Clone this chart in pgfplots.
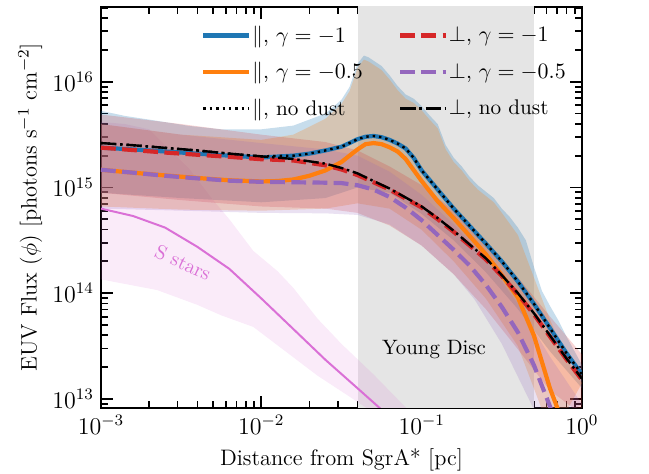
\documentclass[border=0pt]{standalone}
\usepackage{pgfplots}
\pgfplotsset{compat=1.18}
\definecolor{cC0}{HTML}{1F77B4}
\definecolor{cC1}{HTML}{FF7F0E}
\definecolor{cC3}{HTML}{D62728}
\definecolor{cC4}{HTML}{9467BD}
\definecolor{corchid}{HTML}{DA70D6}
\definecolor{cgray}{HTML}{E5E5E5}
\begin{document}
\begin{tikzpicture}
\begin{axis}[
  scale only axis, width=240.5pt, height=200.5pt,
  xmode=log, ymode=log,
  xmin=1e-3, xmax=1, ymin=8.2e12, ymax=5.1e16,
  axis line style={line width=1.2pt},
  every tick/.style={black, line width=0.9pt},
  major tick length=6pt, minor tick length=3.5pt,
  tick align=inside,
  tick label style={font=\fontsize{11.5}{13}\selectfont},
  xlabel={Distance from SgrA* [pc]},
  ylabel={EUV Flux ($\phi$) [photons s$^{-1}$ cm$^{-2}$]},
  every axis x label/.style={at={(axis description cs:0.5,-0.1439)}, anchor=base, font=\fontsize{11.2}{13}\selectfont},
  every axis y label/.style={at={(axis description cs:-0.1339,0.5)}, anchor=base, rotate=90, font=\fontsize{11.2}{13}\selectfont},
  legend columns=2,
  legend cell align=left,
  legend style={draw=none, fill=none, at={(0.982,0.967)}, anchor=north east,
    font=\fontsize{10.6}{12.5}\selectfont, row sep=7.3pt,
    nodes={inner sep=0.6pt, text depth=0.15em},
    /tikz/every even column/.append style={column sep=17pt}},
  legend image code/.code={\draw[#1] (0cm,0cm) -- (0.8cm,0cm);},
]
% Young disc region
\addplot[draw=none, fill=cgray, forget plot] coordinates {(0.04,1e12) (0.5,1e12) (0.5,1e17) (0.04,1e17)} -- cycle;

% S stars band
\addplot[draw=none, fill=corchid, fill opacity=0.14, forget plot] coordinates {
(1e-3,4.17e15) (1.413e-3,3.98e15) (1.995e-3,3.55e15) (2.512e-3,2.51e15) (3.548e-3,1.51e15) (5.012e-3,7.59e14) (6.31e-3,5.01e14) (8.913e-3,2.51e14) (1.259e-2,1.62e14) (1.585e-2,1.12e14) (2.239e-2,5.75e13) (3.162e-2,3.31e13) (5.012e-2,1.70e13) (7.943e-2,8.32e12) (0.1,5.62e12)
(5.623e-2,6.31e12) (4.467e-2,8.32e12) (3.548e-2,1.05e13) (2.239e-2,1.66e13) (1.413e-2,2.82e13) (8.913e-3,4.79e13) (5.623e-3,6.17e13) (3.981e-3,7.76e13) (2.239e-3,1.07e14) (1e-3,1.35e14)} -- cycle;

% blue band
\addplot[draw=none, fill=cC0, fill opacity=0.25, forget plot] coordinates {
(1e-3,5.31e15) (1.413e-3,4.75e15) (2.239e-3,4.27e15) (3.548e-3,3.82e15) (5.623e-3,3.55e15) (1e-2,3.55e15) (1.585e-2,3.85e15) (2.512e-2,5.01e15) (3.162e-2,6.76e15) (3.548e-2,8.91e15) (3.981e-2,1.48e16) (4.365e-2,1.77e16) (4.677e-2,1.70e16) (5.623e-2,1.41e16) (6.31e-2,1.15e16) (7.079e-2,9.12e15) (7.943e-2,7.59e15) (8.913e-2,6.92e15) (0.1,5.89e15) (0.1122,4.79e15) (0.1259,3.98e15) (0.1413,2.51e15) (0.1585,1.91e15) (0.1778,1.58e15) (0.1995,1.26e15) (0.2239,1.05e15) (0.2512,9.12e14) (0.2818,7.94e14) (0.3162,6.31e14) (0.3548,5.25e14) (0.3981,4.17e14) (0.4467,3.16e14) (0.5012,1.78e14) (0.5623,1.05e14) (0.631,7.59e13) (0.7079,5.62e13) (0.7943,3.98e13) (1,2.09e13)
(1,1.26e13) (0.631,2.82e13) (0.3981,7.08e13) (0.2512,1.58e14) (0.1585,3.16e14) (0.1,5.62e14) (6.31e-2,8.91e14) (3.981e-2,1.0e15) (2.512e-2,7.94e14) (1e-2,7.24e14) (3.162e-3,7.94e14) (1e-3,8.91e14)} -- cycle;

% orange band
\addplot[draw=none, fill=cC1, fill opacity=0.25, forget plot] coordinates {
(1e-3,3.98e15) (3.162e-3,3.16e15) (1e-2,2.82e15) (1.585e-2,3.16e15) (2.512e-2,4.47e15) (3.162e-2,6.17e15) (3.548e-2,8.13e15) (3.981e-2,1.35e16) (4.365e-2,1.62e16) (4.677e-2,1.55e16) (5.623e-2,1.29e16) (6.31e-2,1.05e16) (7.079e-2,8.32e15) (7.943e-2,6.92e15) (8.913e-2,6.31e15) (0.1,5.37e15) (0.1122,4.37e15) (0.1259,3.63e15) (0.1413,2.29e15) (0.1585,1.74e15) (0.1778,1.45e15) (0.1995,1.15e15) (0.2239,9.55e14) (0.2512,8.32e14) (0.2818,7.24e14) (0.3162,5.75e14) (0.3981,3.55e14) (0.5012,1.41e14) (0.631,5.62e13) (0.7943,2.51e13) (1,1.41e13)
(0.631,3.98e12) (0.5623,7.94e12) (0.3981,3.16e13) (0.2512,8.91e13) (0.1585,2.0e14) (0.1,3.98e14) (6.31e-2,6.31e14) (3.981e-2,7.08e14) (2.512e-2,6.31e14) (1e-2,6.03e14) (3.162e-3,6.17e14) (1e-3,6.61e14)} -- cycle;

% red band
\addplot[draw=none, fill=cC3, fill opacity=0.2, forget plot] coordinates {
(1e-3,4.90e15) (3.162e-3,3.98e15) (1e-2,3.16e15) (2.512e-2,2.69e15) (3.981e-2,2.24e15) (6.31e-2,1.58e15) (0.1,1.05e15) (0.1585,6.03e14) (0.2512,3.16e14) (0.3981,1.41e14) (0.631,6.03e13) (1,2.63e13)
(1,7.08e12) (0.631,1.20e13) (0.3981,2.95e13) (0.2512,7.08e13) (0.1585,1.51e14) (0.1,2.82e14) (6.31e-2,4.37e14) (3.981e-2,5.75e14) (2.512e-2,6.31e14) (1e-2,6.61e14) (3.162e-3,7.59e14) (1e-3,8.91e14)} -- cycle;

% purple band
\addplot[draw=none, fill=cC4, fill opacity=0.2, forget plot] coordinates {
(1e-3,3.98e15) (3.162e-3,3.16e15) (1e-2,2.63e15) (2.512e-2,2.29e15) (3.981e-2,2.0e15) (6.31e-2,1.41e15) (0.1,8.51e14) (0.1585,4.47e14) (0.2512,2.09e14) (0.3981,7.94e13) (0.631,2.51e13) (1,8.91e12)
(0.5623,5.01e12) (0.5012,7.94e12) (0.3162,3.31e13) (0.2138,8.71e13) (0.1585,1.51e14) (0.1,2.82e14) (6.31e-2,4.47e14) (3.981e-2,5.50e14) (2.512e-2,5.69e14) (1e-2,5.75e14) (3.162e-3,6.03e14) (1e-3,6.31e14)} -- cycle;

% S stars line
\addplot[corchid, line width=1pt, forget plot] coordinates {
(1e-3,6.31e14) (1.585e-3,5.37e14) (2.512e-3,4.17e14) (3.981e-3,2.75e14) (6.31e-3,1.70e14) (1e-2,8.91e13) (1.585e-2,4.57e13) (2.512e-2,2.34e13) (3.981e-2,1.26e13) (6.31e-2,6.76e12)};

% blue: parallel, gamma=-1
\addplot[cC0, line width=2.1pt, forget plot] coordinates {
(1e-3,2.38e15) (1.585e-3,2.29e15) (2.512e-3,2.19e15) (3.981e-3,2.09e15) (6.31e-3,2.00e15) (1e-2,1.92e15) (1.585e-2,2.00e15) (1.995e-2,2.09e15) (2.512e-2,2.24e15) (3.162e-2,2.43e15) (3.548e-2,2.63e15) (3.981e-2,2.86e15) (4.467e-2,3.02e15) (5.012e-2,3.07e15) (5.623e-2,2.99e15) (6.31e-2,2.82e15) (7.079e-2,2.60e15) (7.943e-2,2.34e15) (8.913e-2,1.91e15) (0.1,1.45e15) (0.1259,9.55e14) (0.1585,6.31e14) (0.1995,4.32e14) (0.2512,2.95e14) (0.3162,2.00e14) (0.3981,1.29e14) (0.5012,7.94e13) (0.631,4.68e13) (0.7943,2.75e13) (1,1.70e13)};

% orange: parallel, gamma=-0.5
\addplot[cC1, line width=2.1pt, forget plot] coordinates {
(1e-3,1.47e15) (1.585e-3,1.38e15) (2.512e-3,1.30e15) (3.981e-3,1.23e15) (6.31e-3,1.17e15) (1e-2,1.14e15) (1.259e-2,1.15e15) (1.585e-2,1.19e15) (1.995e-2,1.29e15) (2.512e-2,1.45e15) (3.162e-2,1.74e15) (3.548e-2,2.00e15) (3.981e-2,2.29e15) (4.467e-2,2.57e15) (5.012e-2,2.63e15) (5.623e-2,2.57e15) (6.31e-2,2.40e15) (7.079e-2,2.19e15) (7.943e-2,1.86e15) (0.1,1.15e15) (0.1259,7.41e14) (0.1585,5.13e14) (0.1995,3.47e14) (0.2512,2.34e14) (0.3162,1.48e14) (0.3981,9.12e13) (0.5012,3.98e13) (0.631,1.26e13) (0.7079,7.94e12) (0.7943,4.47e12)};

% red: perp, gamma=-1
\addplot[cC3, line width=2.1pt, dash pattern=on 7.4pt off 3.2pt, forget plot] coordinates {
(1e-3,2.38e15) (1.585e-3,2.26e15) (2.512e-3,2.14e15) (3.981e-3,2.04e15) (6.31e-3,1.95e15) (1e-2,1.85e15) (1.585e-2,1.80e15) (2.512e-2,1.62e15) (3.162e-2,1.48e15) (3.981e-2,1.31e15) (5.012e-2,1.12e15) (6.31e-2,9.55e14) (7.943e-2,7.85e14) (0.1,6.46e14) (0.1259,5.01e14) (0.1585,3.80e14) (0.1995,2.82e14) (0.2512,2.09e14) (0.3162,1.45e14) (0.3981,9.77e13) (0.5012,6.31e13) (0.631,3.89e13) (0.7943,2.40e13) (1,1.51e13)};

% purple: perp, gamma=-0.5
\addplot[cC4, line width=2.1pt, dash pattern=on 7.4pt off 3.2pt, forget plot] coordinates {
(1e-3,1.47e15) (1.585e-3,1.38e15) (2.512e-3,1.29e15) (3.981e-3,1.22e15) (6.31e-3,1.16e15) (1e-2,1.13e15) (1.585e-2,1.12e15) (2.512e-2,1.11e15) (3.162e-2,1.10e15) (3.981e-2,1.05e15) (5.012e-2,9.55e14) (6.31e-2,8.13e14) (7.943e-2,6.46e14) (0.1,4.90e14) (0.1259,3.55e14) (0.1585,2.57e14) (0.1995,1.82e14) (0.2512,1.20e14) (0.3162,7.41e13) (0.3981,4.27e13) (0.5012,2.09e13) (0.631,8.51e12) (0.7079,5.01e12)};

% black dotted: parallel, no dust
\addplot[black, line width=1.2pt, dash pattern=on 1.2pt off 2pt, forget plot] coordinates {
(1e-3,2.63e15) (1.585e-3,2.51e15) (2.512e-3,2.37e15) (3.981e-3,2.24e15) (6.31e-3,2.09e15) (1e-2,1.97e15) (1.585e-2,2.00e15) (1.995e-2,2.09e15) (2.512e-2,2.24e15) (3.162e-2,2.43e15) (3.548e-2,2.63e15) (3.981e-2,2.86e15) (4.467e-2,3.02e15) (5.012e-2,3.07e15) (5.623e-2,2.99e15) (6.31e-2,2.82e15) (7.079e-2,2.60e15) (7.943e-2,2.34e15) (8.913e-2,1.91e15) (0.1,1.45e15) (0.1259,9.55e14) (0.1585,6.31e14) (0.1995,4.32e14) (0.2512,2.95e14) (0.3162,2.00e14) (0.3981,1.29e14) (0.5012,7.94e13) (0.631,4.68e13) (0.7943,2.75e13) (1,1.70e13)};

% black dash-dot: perp, no dust
\addplot[black, line width=1.2pt, dash pattern=on 7.7pt off 1.9pt on 1.2pt off 1.9pt, forget plot] coordinates {
(1e-3,2.63e15) (1.585e-3,2.51e15) (2.512e-3,2.37e15) (3.981e-3,2.24e15) (6.31e-3,2.09e15) (1e-2,1.97e15) (1.585e-2,1.86e15) (2.512e-2,1.68e15) (3.162e-2,1.53e15) (3.981e-2,1.36e15) (5.012e-2,1.15e15) (6.31e-2,9.77e14) (7.943e-2,8.04e14) (0.1,6.61e14) (0.1259,5.13e14) (0.1585,3.89e14) (0.1995,2.88e14) (0.2512,2.14e14) (0.3162,1.48e14) (0.3981,1.0e14) (0.5012,6.46e13) (0.631,3.98e13) (0.7943,2.45e13) (1,1.55e13)};

\node[font=\fontsize{10.4}{12}\selectfont] at (axis cs:0.1194,2.92e13) {Young Disc};
\node[font=\fontsize{10}{12}\selectfont, text=corchid, rotate=-25] at (axis cs:3.25e-3,1.95e14) {S stars};

\addlegendimage{cC0, line width=2.1pt}
\addlegendentry{$\|$, $\gamma=-1$}
\addlegendimage{cC3, line width=2.1pt, dash pattern=on 7.4pt off 3.2pt}
\addlegendentry{$\perp$, $\gamma=-1$}
\addlegendimage{cC1, line width=2.1pt}
\addlegendentry{$\|$, $\gamma=-0.5$}
\addlegendimage{cC4, line width=2.1pt, dash pattern=on 7.4pt off 3.2pt}
\addlegendentry{$\perp$, $\gamma=-0.5$}
\addlegendimage{black, line width=1.2pt, dash pattern=on 1.2pt off 2pt}
\addlegendentry{$\|$, no dust}
\addlegendimage{black, line width=1.2pt, dash pattern=on 7.7pt off 1.9pt on 1.2pt off 1.9pt}
\addlegendentry{$\perp$, no dust}

\coordinate (SW) at (rel axis cs:0,0);
\coordinate (NE) at (rel axis cs:1,1);
\end{axis}
\pgfresetboundingbox
\path ([shift={(-50.5pt,-33pt)}]SW) rectangle ([shift={(33.5pt,3.5pt)}]NE);
\end{tikzpicture}
\end{document}
